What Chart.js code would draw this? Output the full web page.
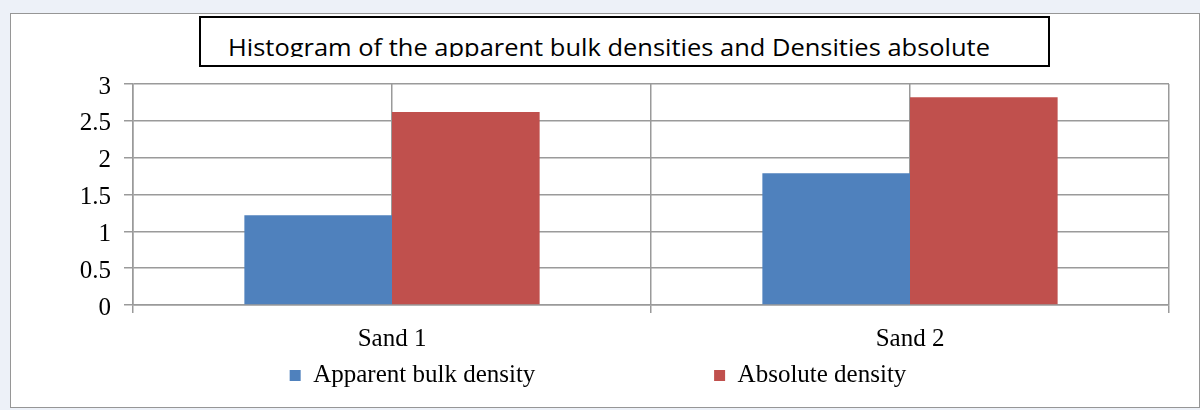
<!DOCTYPE html>
<html>
<head>
<meta charset="utf-8">
<script src="https://cdn.jsdelivr.net/npm/chart.js@4/dist/chart.umd.min.js"></script>
<style>
  html, body { margin: 0; padding: 0; }
  body { width: 1200px; height: 410px; background: #edf1f8; position: relative; overflow: hidden; }
  #frame { position: absolute; left: 10px; top: 13px; width: 1188px; height: 393px; border: 1px solid #969696; background: #fff; }
  #chart { position: absolute; left: 0; top: 0; }
  #titleBox { position: absolute; left: 199px; top: 16px; width: 851px; height: 51px; box-sizing: border-box; border: 2px solid #000; background: #fff; }
  #titleClip { position: absolute; left: 0; top: 0; width: 100%; height: 39px; overflow: hidden; }
  #titleText { position: absolute; left: 27px; top: 18px; font-family: "Open Sans", sans-serif; font-size: 23px; line-height: 23px; white-space: nowrap; color: #000; transform-origin: 0 0; }
</style>
</head>
<body>
<div id="frame">
  <canvas id="chart" width="1188" height="393"></canvas>
</div>
<div id="titleBox"><div id="titleClip"><span id="titleText">Histogram of the apparent bulk densities and Densities absolute</span></div></div>
<script>
const categories = ['Sand 1', 'Sand 2'];
const seriesNames = ['Apparent bulk density', 'Absolute density'];
const apparentBulk = [1.22, 1.79];
const absoluteDensity = [2.62, 2.82];
const yTickLabels = ['0', '0.5', '1', '1.5', '2', '2.5', '3'];

// squeeze the title to the width it has in the picture
const tt = document.getElementById('titleText');
tt.style.transform = 'scaleX(' + (762 / tt.getBoundingClientRect().width) + ')';

const gridColor = '#9a9a9a';
const serif = '"Liberation Serif", "Times New Roman", serif';

new Chart(document.getElementById('chart'), {
  type: 'bar',
  data: {
    labels: categories,
    datasets: [
      // trailing spaces give the wide gap between the two legend entries
      { label: seriesNames[0] + '\u00a0'.repeat(27), data: apparentBulk, backgroundColor: '#4f81bd' },
      { label: seriesNames[1], data: absoluteDensity, backgroundColor: '#c0504d' }
    ]
  },
  options: {
    responsive: false,
    animation: false,
    devicePixelRatio: 1,
    layout: { padding: { left: 16, top: 70, right: 30, bottom: 9 } },
    datasets: { bar: { barPercentage: 1, categoryPercentage: 0.57 } },
    plugins: {
      title: { display: false },
      tooltip: { enabled: false },
      legend: {
        position: 'bottom',
        labels: {
          boxWidth: 11, boxHeight: 11, padding: 10,
          color: '#000',
          font: { family: serif, size: 25 }
        }
      }
    },
    scales: {
      x: {
        offset: true,
        grid: { offset: true, color: gridColor, lineWidth: 1.5, tickLength: 8 },
        border: { color: gridColor, width: 1.5 },
        ticks: { color: '#000', padding: 11, font: { family: serif, size: 25 } },
        afterFit: s => { s.height = 48; }
      },
      x2: {
        type: 'category',
        labels: categories,
        position: 'bottom',
        offset: true,
        grid: { offset: false, color: gridColor, lineWidth: 1.5, drawTicks: false },
        border: { display: false },
        ticks: { display: false },
        afterFit: s => { s.height = 0; }
      },
      y: {
        min: 0, max: 3,
        ticks: {
          stepSize: 0.5,
          color: '#000',
          padding: 13,
          labelOffset: 3,
          font: { family: serif, size: 25 },
          callback: (v, i) => yTickLabels[i]
        },
        grid: { color: gridColor, lineWidth: 1.5, tickLength: 9 },
        border: { color: gridColor, width: 1.5 },
        afterFit: s => { s.width = 106; }
      }
    }
  }
});
</script>
</body>
</html>
